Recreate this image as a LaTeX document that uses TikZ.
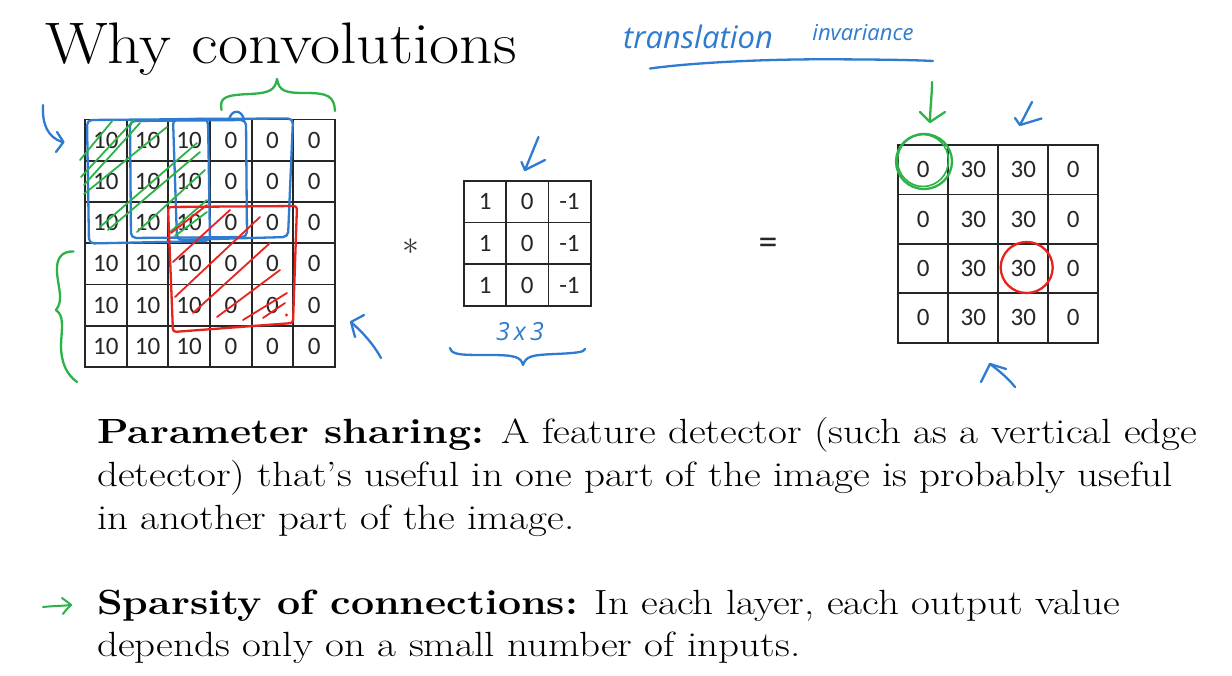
\documentclass[tikz,border=0pt]{standalone}
\usepackage{fontspec}
\usepackage{graphicx}
\newfontfamily\numfont{Carlito}
\newfontfamily\handfont{Open Sans}
\definecolor{penblue}{HTML}{2E7BCF}
\definecolor{pengreen}{HTML}{2DB24A}
\definecolor{penred}{HTML}{E8231F}
\tikzset{
  gridline/.style={line width=1.8pt, draw=black!85, line cap=rect},
  num/.style={font=\numfont\fontsize{25}{27}\selectfont, inner sep=0pt, text=black!85},
  pen/.style={line width=2.3pt, line cap=round, line join=round},
  bluepen/.style={pen, draw=penblue},
  greenpen/.style={pen, draw=pengreen},
  redpen/.style={pen, draw=penred},
  body/.style={font=\fontsize{35}{40}\selectfont, anchor=base west, inner sep=0pt},
  hand/.style={font=\handfont\itshape, text=penblue, inner sep=0pt},
}
\newcommand{\bodyline}[1]{\scalebox{1.175}[1]{#1}}
\begin{document}
\begin{tikzpicture}[x=1pt,y=-1pt]
\useasboundingbox (0,0) rectangle (1232,676);
\fill[white] (0,0) rectangle (1232,676);

% title
\node[anchor=base west, inner sep=0pt, font=\fontsize{58.6}{62}\selectfont] (title) at (45,63.5) {\scalebox{1.12}[1]{Why convolutions}};

% ---------- input 6x6 ----------
\foreach \i in {0,...,6} {
  \draw[gridline] ({85+\i*41.667},119.5) -- ({85+\i*41.667},367);
  \draw[gridline] (85,{119.5+\i*41.25}) -- (335,{119.5+\i*41.25});
}
\foreach \r in {0,...,5} \foreach \c in {0,...,5} {
  \node[num] (in-\r-\c) at ({85+(\c+0.5)*41.667},{119.5+(\r+0.5)*41.25}) {\ifnum\c<3\relax 10\else 0\fi};
}

% ---------- filter 3x3 ----------
\foreach \i in {0,...,3} {
  \draw[gridline] ({464+\i*42.2},180.7) -- ({464+\i*42.2},306);
  \draw[gridline] (464,{180.7+\i*41.77}) -- (590.6,{180.7+\i*41.77});
}
\foreach \r in {0,...,2} \foreach \c in {0,...,2} {
  \node[num] (f-\r-\c) at ({464+(\c+0.5)*42.2},{180.7+(\r+0.5)*41.77}) {\ifcase\c\relax 1\or 0\or -1\fi};
}

% ---------- output 4x4 ----------
\foreach \i in {0,...,4} {
  \draw[gridline] ({898.3+\i*50},145) -- ({898.3+\i*50},342.7);
  \draw[gridline] (898.3,{145+\i*49.42}) -- (1098.3,{145+\i*49.42});
}
\foreach \r in {0,...,3} \foreach \c in {0,...,3} {
  \node[num] (o-\r-\c) at ({898.3+(\c+0.5)*50},{145+(\r+0.5)*49.42}) {\ifcase\c\relax 0\or 30\or 30\or 0\fi};
}

% operators
\node[inner sep=0pt, text=black!80, font=\fontsize{24}{26}\selectfont] (star) at (410.7,246.5) {\scalebox{1.35}{$\ast$}};
\node[num, font=\numfont\fontsize{38}{40}\selectfont] (eq) at (768,246) {=};

% ---------- hand annotations on input ----------
% blue windows
\draw[bluepen, rounded corners=5pt] (87,120) -- (208,119) -- (210,241) -- (89,243.5) -- cycle;
\draw[bluepen, rounded corners=5pt] (130,121) -- (246,120) -- (247,237) -- (131,238) -- cycle;
\draw[bluepen, rounded corners=5pt] (173,119) -- (293,118.5) -- (288,237) -- (177,240) -- cycle;
\draw[bluepen] (229,120) .. controls (231,109) and (242,109) .. (244,120);
% green hatch
\draw[greenpen, line width=1.8pt] (80,160) -- (113,120);
\draw[greenpen, line width=1.8pt] (81,177) -- (134,120);
\draw[greenpen, line width=1.8pt] (84,185) -- (140,123);
\draw[greenpen, line width=1.8pt] (84,194) -- (167,127);
\draw[greenpen, line width=1.8pt] (100,227) -- (197,143);
\draw[greenpen, line width=1.8pt] (108,230) -- (200,152);
\draw[greenpen, line width=1.8pt] (137,232) -- (205,170);
\draw[greenpen, line width=1.8pt] (170,232) -- (207,200);
\draw[greenpen, line width=1.8pt] (175,236) -- (207,212);
% red window and hatch
\draw[redpen, rounded corners=3pt] (168,207) -- (297,206) -- (293,323) -- (173,332) -- cycle;
\draw[redpen, line width=1.8pt] (171,233) -- (207,205);
\draw[redpen, line width=1.8pt] (173,262) -- (230,210);
\draw[redpen, line width=1.8pt] (175,297) -- (260,217);
\draw[redpen, line width=1.8pt] (193,313) -- (270,243);
\draw[redpen, line width=1.8pt] (217,317) -- (280,270);
\draw[redpen, line width=1.8pt] (243,320) -- (287,293);
\draw[redpen, line width=1.8pt] (263,318) -- (285,303);
\fill[penred] (286.5,315) circle[radius=1.6pt];

% green braces
\draw[greenpen] (221.5,110) .. controls (219,97) and (226,95) .. (250,94)
  .. controls (270,93) and (275,90) .. (277,79)
  .. controls (279,91) and (285,93) .. (305,93)
  .. controls (328,93) and (334,96) .. (335,111);
\draw[greenpen] (73.5,251.5) .. controls (62,251) and (56,258) .. (57,272)
  .. controls (58,288) and (64,300) .. (56,310)
  .. controls (64,316) and (62,325) .. (61,345)
  .. controls (61,362) and (66,374) .. (77,382);

% blue arrows near input
\draw[bluepen] (43,105) .. controls (42,125) and (48,137) .. (62,142);
\draw[bluepen] (57,132) -- (63.5,142) -- (56,152);
\draw[bluepen] (381,358) .. controls (372,342) and (362,332) .. (351,322);
\draw[bluepen] (364,315) -- (351,322) -- (355,337);

% ---------- annotations on filter ----------
\draw[bluepen] (538.5,137) -- (525,170);
\draw[bluepen] (521.5,162) -- (525,170) -- (545,160);
\node[hand, font=\handfont\itshape\fontsize{25}{27}\selectfont] (three) at (520,332) {3\,x\,3};
\draw[bluepen] (450,348) .. controls (452,355) and (460,355) .. (490,355)
  .. controls (515,355) and (521,357) .. (523,365)
  .. controls (526,356) and (532,355) .. (555,354)
  .. controls (578,353) and (584,352) .. (585,349);

% ---------- annotations on output ----------
\node[hand, font=\handfont\itshape\fontsize{31}{33}\selectfont] (trans) at (698,37) {translation};
\node[hand, font=\handfont\itshape\fontsize{22}{24}\selectfont] (inv) at (863,33) {invariance};
\draw[bluepen] (650,68.5) .. controls (690,63) and (760,59) .. (833,59.3) .. controls (880,59.5) and (915,60) .. (933,61);

\draw[greenpen] (932,82) .. controls (932,95) and (930,110) .. (930,122);
\draw[greenpen] (920,112) -- (930,122) -- (945,112);
\draw[bluepen] (1032,102) -- (1020,125);
\draw[bluepen] (1015,118) -- (1020,125) -- (1041.5,118.5);
\draw[bluepen] (1015,387) .. controls (1008,378) and (998,370) .. (990,364);
\draw[bluepen] (981,382) -- (990,364) -- (1006,369);

\draw[greenpen] (924,161.5) ellipse[x radius=28pt, y radius=27.5pt];
\draw[greenpen, line width=1.6pt] (923,160.5) ellipse[x radius=25.5pt, y radius=26pt];
\draw[redpen] (1026.7,267.5) ellipse[x radius=26pt, y radius=25.5pt];

% ---------- body text ----------
\node[body] (ps1) at (97,443) {\bodyline{\textbf{Parameter sharing:} A feature detector (such as a vertical edge}};
\node[body] (ps2) at (97,486) {\bodyline{detector) that’s useful in one part of the image is probably useful}};
\node[body] (ps3) at (97,529) {\bodyline{in another part of the image.}};
\node[body] (sp1) at (97,614) {\bodyline{\textbf{Sparsity of connections:} In each layer, each output value}};
\node[body] (sp2) at (97,656) {\bodyline{depends only on a small number of inputs.}};

\draw[greenpen, line width=2pt] (43,607) .. controls (52,606) and (62,606) .. (71,605);
\draw[greenpen, line width=2pt] (62,598) .. controls (66,601) and (69,603) .. (71,605) .. controls (68,608) and (65,611) .. (63,614);
\end{tikzpicture}
\end{document}
